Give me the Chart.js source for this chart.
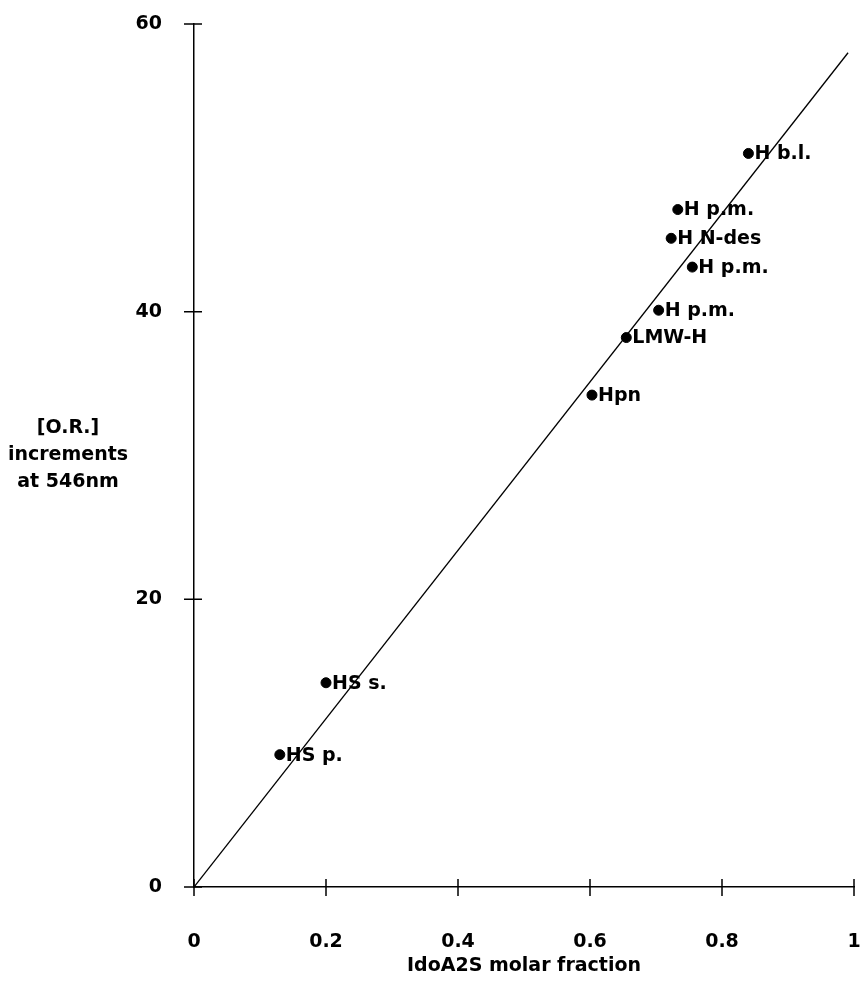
<!doctype html>
<html lang="en">
  <head>
    <title>IdoA2S molar fraction vs O.R. increments</title>
    <style>
      html, body {
        margin: 0;
        padding: 0;
        background: #fff;
      }
      .container {
        width: 860px;
        height: 982px;
      }
    </style>
  </head>
  <body>
    <div class="container">
      <canvas id="myChart"></canvas>
    </div>

    <script src="https://cdn.jsdelivr.net/npm/chart.js"></script>
    <script>
      // samples
      const sampleNames = ['HS p.', 'HS s.', 'Hpn', 'LMW-H', 'H p.m.', 'H p.m.', 'H N-des', 'H p.m.', 'H b.l.']
      const idoa2sFraction = [0.13, 0.2, 0.603, 0.655, 0.704, 0.755, 0.723, 0.733, 0.84]
      const orIncrement = [9.2, 14.2, 34.2, 38.2, 40.1, 43.1, 45.1, 47.1, 51.0]

      // fitted line through the origin
      const fitX = [0, 0.991]
      const fitY = [0, 58.0]

      const xTicks = [0, 0.2, 0.4, 0.6, 0.8, 1]
      const xTickLabels = ['0', '0.2', '0.4', '0.6', '0.8', '1']
      const yTicks = [0, 20, 40, 60]
      const yTitleLines = ['[O.R.]', 'increments', 'at 546nm']

      const fontFamily = '"DejaVu Sans", sans-serif'
      const fontSize = 19
      const fontWeight = 'bold'

      const points = sampleNames.map((n, i) => ({ x: idoa2sFraction[i], y: orIncrement[i] }))
      const fitLine = fitX.map((x, i) => ({ x: x, y: fitY[i] }))

      // tick marks crossing the axes, point labels and the flat y title
      const decor = {
        id: 'decor',
        afterDatasetsDraw(chart) {
          const ctx = chart.ctx
          const xs = chart.scales.x
          const ys = chart.scales.y
          const x0 = xs.getPixelForValue(0)
          const y0 = ys.getPixelForValue(0)
          ctx.save()
          ctx.strokeStyle = '#000'
          ctx.lineWidth = 1.5
          ctx.beginPath()
          xTicks.forEach(v => {
            const px = xs.getPixelForValue(v)
            ctx.moveTo(px, y0 - 8)
            ctx.lineTo(px, y0 + 9)
          })
          yTicks.forEach(v => {
            const py = ys.getPixelForValue(v)
            ctx.moveTo(x0 - 10, py)
            ctx.lineTo(x0 + 8, py)
          })
          ctx.stroke()

          ctx.fillStyle = '#000'
          ctx.font = fontWeight + ' ' + fontSize + 'px ' + fontFamily
          ctx.textBaseline = 'middle'
          ctx.textAlign = 'left'
          const meta = chart.getDatasetMeta(0)
          meta.data.forEach((el, i) => {
            ctx.fillText(sampleNames[i], el.x + 6, el.y + 1)
          })

          ctx.textAlign = 'center'
          const midY = (chart.chartArea.top + chart.chartArea.bottom) / 2
          yTitleLines.forEach((line, i) => {
            ctx.fillText(line, 68, midY + (i - 1) * 27)
          })
          ctx.restore()
        }
      }

      const config = {
        type: 'scatter',
        data: {
          datasets: [{
            label: 'samples',
            data: points,
            backgroundColor: '#000',
            borderColor: '#000',
            pointRadius: 5,
            pointHoverRadius: 5
          },
          {
            type: 'line',
            label: 'fit',
            data: fitLine,
            borderColor: '#000',
            borderWidth: 1.3,
            pointRadius: 0,
            fill: false,
            tension: 0
          }]
        },
        options: {
          responsive: true,
          maintainAspectRatio: false,
          animation: false,
          layout: {
            padding: { top: 24, right: 4, bottom: 0, left: 0 }
          },
          plugins: {
            legend: { display: false },
            tooltip: { enabled: false }
          },
          scales: {
            x: {
              type: 'linear',
              min: 0,
              max: 1,
              afterBuildTicks: s => { s.ticks = xTicks.map(v => ({ value: v })) },
              afterFit: s => { s.height = 95; s.paddingLeft = 0; s.paddingRight = 0 },
              grid: { display: false },
              border: { display: true, color: '#000', width: 1.5 },
              ticks: {
                color: '#000',
                padding: 36,
                callback: (v, i) => xTickLabels[i],
                font: { family: fontFamily, size: fontSize, weight: fontWeight }
              },
              title: {
                display: true,
                text: 'IdoA2S molar fraction',
                color: '#000',
                padding: { top: 0, bottom: 5 },
                font: { family: fontFamily, size: fontSize, weight: fontWeight }
              }
            },
            y: {
              type: 'linear',
              min: 0,
              max: 60,
              afterBuildTicks: s => { s.ticks = yTicks.map(v => ({ value: v })) },
              afterFit: s => { s.width = 194; s.paddingTop = 0; s.paddingBottom = 0 },
              grid: { display: false },
              border: { display: true, color: '#000', width: 1.5 },
              ticks: {
                color: '#000',
                padding: 24,
                font: { family: fontFamily, size: fontSize, weight: fontWeight }
              }
            }
          }
        },
        plugins: [decor]
      }

      var myChart = new Chart(document.getElementById('myChart'), config)
    </script>
  </body>
</html>
